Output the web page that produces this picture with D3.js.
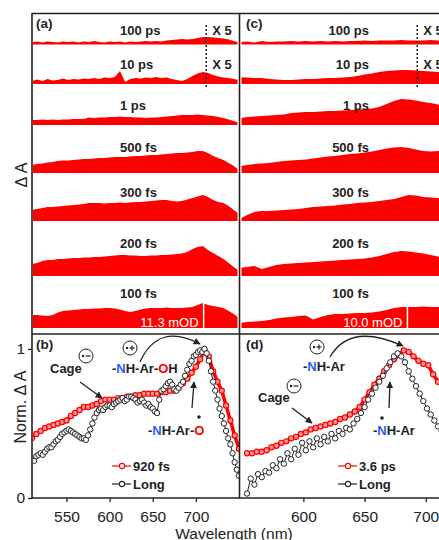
<!DOCTYPE html>
<html><head><meta charset="utf-8">
<script src="https://cdn.jsdelivr.net/npm/d3@7"></script>
<style>body{margin:0;background:#fff}svg{display:block;font-family:Arial,"Liberation Sans",sans-serif}</style>
</head><body><svg id="c" width="439" height="540"></svg>
<script>
// ---------- DATA ----------
const delays = ["100 ps","10 ps","1 ps","500 fs","300 fs","200 fs","100 fs"];
const magTag = ["X 5","X 5","","","","",""];
// wavelength grids (nm)
const wlA = d3.range(510, 751, 6);
const wlC = d3.range(548, 717, 6);
// panel (a) transient spectra, mOD (100 ps and 10 ps shown x5)
const a100ps = [1.1,1.4,0.9,1.4,1.1,0.9,1.4,1.1,1.4,0.9,1.4,1.1,1.6,1.1,0.9,1.4,1.1,1.4,0.9,1.4,1.1,1.4,1.6,1.4,1.6,1.4,1.8,2.0,2.3,2.5,2.3,2.5,2.9,3.4,3.4,3.2,2.9,2.7,2.3,1.6,0.9];
const a10ps  = [1.4,2.0,1.4,2.3,1.6,1.8,2.5,1.8,2.3,2.0,2.5,2.3,2.7,2.3,2.9,2.7,3.2,5.9,0.9,2.3,2.7,2.5,2.9,2.7,3.2,2.7,2.9,2.3,1.8,1.4,2.3,3.6,4.7,5.4,5.0,4.1,3.4,2.9,2.7,2.3,1.8];
const a1ps   = [2.3,2.3,2.5,2.3,2.5,2.3,2.5,2.5,2.7,2.7,2.7,3.4,3.2,3.4,3.4,3.6,3.6,3.8,3.6,3.6,3.4,3.4,3.2,3.4,3.4,3.6,3.8,4.1,4.3,4.5,4.5,4.5,4.7,4.5,4.3,4.1,3.6,3.2,2.5,1.8,0.9];
const a500fs = [3.6,4.1,4.3,4.7,5.0,5.4,5.7,5.7,5.9,6.1,6.3,6.3,6.6,6.8,6.8,7.0,7.2,7.2,7.2,7.5,7.7,7.7,7.9,8.1,8.1,8.4,8.6,8.8,9.0,9.0,9.3,9.5,9.9,9.9,9.0,7.7,6.8,5.9,4.5,3.2,1.4];
const a300fs = [5.0,5.4,5.9,6.3,6.3,6.6,6.8,7.0,7.2,7.5,7.7,8.1,8.1,8.1,7.9,8.1,8.1,8.4,8.1,8.4,8.6,8.6,8.8,9.0,9.3,9.5,9.5,9.0,8.8,9.0,9.7,10.4,11.1,11.8,10.8,9.5,8.6,8.1,6.8,5.0,3.2];
const a200fs = [5.4,5.9,6.8,7.2,7.2,7.7,7.7,7.9,8.1,8.1,8.4,8.4,8.6,8.6,8.8,9.0,9.3,9.5,9.5,9.3,9.3,9.0,9.0,9.3,9.3,9.5,9.5,9.7,9.9,10.2,10.8,12.2,13.1,13.6,11.8,10.4,9.0,7.7,5.9,4.1,2.3];
const a100fs = [5.9,5.9,5.7,5.4,5.9,7.0,7.7,7.9,8.1,8.4,8.6,8.6,8.8,8.8,9.0,9.0,8.8,8.4,7.7,7.2,7.7,8.4,8.8,9.0,9.0,9.0,9.3,9.0,9.0,9.0,9.3,9.5,10.4,11.3,10.4,9.9,9.5,9.0,7.7,6.3,4.5];
// panel (c) transient spectra, mOD
const c100ps = [1.2,1.4,1.0,1.7,1.2,1.4,1.4,1.7,1.4,1.7,1.4,1.7,1.4,1.7,1.4,1.7,1.7,1.9,1.7,1.9,1.9,1.9,2.1,1.9,1.9,1.9,2.1,1.9,1.9];
const c10ps  = [3.3,3.1,2.9,2.9,2.4,2.1,1.9,1.9,2.1,2.4,2.4,2.6,2.9,2.9,3.1,3.3,3.8,4.5,5.0,5.7,6.2,6.4,6.7,6.7,6.4,6.2,6.0,5.7,5.7];
const c1ps   = [3.3,3.8,4.0,4.3,4.5,4.8,5.0,5.7,6.0,6.2,6.2,6.4,6.7,6.7,6.9,7.1,7.4,7.6,7.9,8.6,10.0,11.4,12.4,12.1,11.7,10.9,10.5,9.8,9.0];
const c500fs = [3.3,3.8,4.3,4.5,4.8,5.2,5.7,6.0,6.2,6.4,6.9,7.4,7.9,8.1,8.6,9.0,9.3,9.8,10.2,10.9,11.7,12.1,12.4,11.9,11.2,10.5,10.2,10.5,10.7];
const c300fs = [1.0,2.9,4.3,4.8,4.8,5.0,5.2,5.5,5.7,6.2,6.7,6.9,7.1,7.4,7.9,8.1,8.6,8.8,9.0,9.5,10.0,10.5,11.4,12.4,12.1,11.4,11.2,10.9,10.5];
const c200fs = [3.8,4.3,4.8,3.3,4.3,5.2,5.7,6.0,6.2,6.4,6.7,6.9,7.1,7.4,7.6,7.9,8.1,8.3,8.8,9.5,10.5,11.4,11.9,11.7,11.2,10.7,10.0,9.3,8.6];
const c100fs = [2.4,2.9,3.1,3.3,3.8,4.5,5.0,5.2,5.7,6.0,4.0,5.2,6.2,6.7,6.7,6.9,7.1,7.1,7.4,7.9,8.6,9.5,10.0,10.0,10.0,10.2,10.0,10.0,10.0];
const scaleBarA = {wl: 709, mOD: 11.3, label: "11.3 mOD"};
const scaleBarC = {wl: 685, mOD: 10.0, label: "10.0 mOD"};
const magLineA = 712, magLineC = 693;
// panel (b) normalized spectra
const wlB = d3.range(510, 751, 5);
const b920fs = [0.40,0.43,0.45,0.47,0.48,0.49,0.50,0.51,0.52,0.55,0.57,0.59,0.61,0.61,0.62,0.63,0.65,0.66,0.66,0.66,0.67,0.67,0.68,0.68,0.69,0.69,0.70,0.70,0.70,0.70,0.71,0.71,0.72,0.72,0.74,0.77,0.80,0.84,0.88,0.93,0.99,0.95,0.85,0.78,0.72,0.62,0.52,0.42,0.33];
const wlB2 = d3.range(510, 750.1, 2.5);
const bLong  = [0.26,0.25,0.28,0.29,0.30,0.29,0.31,0.33,0.34,0.34,
                0.36,0.38,0.39,0.41,0.43,0.44,0.45,0.46,0.45,0.44,
                0.43,0.42,0.41,0.40,0.40,0.39,0.42,0.46,0.50,0.54,
                0.57,0.59,0.60,0.59,0.61,0.62,0.62,0.61,0.63,0.64,
                0.65,0.66,0.67,0.65,0.66,0.68,0.68,0.67,0.66,0.64,
                0.65,0.66,0.64,0.62,0.63,0.61,0.60,0.58,0.57,0.66,
                0.72,0.73,0.75,0.77,0.78,0.76,0.73,0.72,0.74,0.76,
                0.78,0.82,0.86,0.90,0.92,0.95,0.96,0.98,0.99,0.98,
                1.00,0.97,0.92,0.85,0.78,0.72,0.66,0.60,0.55,0.50,
                0.45,0.40,0.36,0.30,0.24,0.19,0.15];
// panel (d) normalized spectra
const wlD1 = d3.range(554, 719, 4);
const d36ps = [0.30,0.30,0.31,0.31,0.32,0.34,0.35,0.37,0.38,0.40,0.41,0.43,0.44,0.46,0.47,0.48,0.49,0.50,0.51,0.53,0.54,0.56,0.58,0.61,0.66,0.71,0.76,0.80,0.85,0.89,0.93,0.96,0.99,0.98,0.95,0.92,0.90,0.89,0.83,0.78,0.76,0.73];
const wlD2 = d3.range(554, 717, 3);
const dLong = [0.03,0.13,0.09,0.16,0.14,0.18,0.17,0.22,0.20,0.26,0.23,0.30,0.26,0.33,0.29,0.37,0.32,0.38,0.34,0.40,0.36,0.41,0.38,0.43,0.40,0.45,0.43,0.47,0.46,0.50,0.53,0.57,0.61,0.66,0.70,0.74,0.78,0.82,0.87,0.91,0.95,0.97,0.95,0.91,0.85,0.80,0.75,0.70,0.65,0.60,0.56,0.52,0.48,0.45,0.42];
const xTicksB = [550,600,650,700], xTicksD = [600,650,700], yTicks = [0,1];

// ---------- LAYOUT ----------
const RED = "#ff0000", INK = "#222";
const rowBase = [44.5, 84, 125, 173, 221, 276, 328];
const labelBase = [35, 69, 110, 152, 197, 248, 298];
const svg = d3.select("#c");
const xA = d3.scaleLinear([510,750],[32,239]);
const xC = d3.scaleLinear([548,750],[239.7,487]);
const hA = d3.scaleLinear([0,11.3],[0,25]);
const hC = d3.scaleLinear([0,10],[0,21]);
const yN = d3.scaleLinear([0,1.1],[498,334]);

const defs = svg.append("defs");
defs.append("clipPath").attr("id","clipA").append("rect").attr("x",33).attr("y",14).attr("width",204.5).attr("height",320);
defs.append("clipPath").attr("id","clipC").append("rect").attr("x",241.5).attr("y",14).attr("width",200).attr("height",320);
defs.append("clipPath").attr("id","clipB").append("rect").attr("x",33).attr("y",335).attr("width",206).attr("height",162);
defs.append("clipPath").attr("id","clipD").append("rect").attr("x",240.5).attr("y",335).attr("width",200).attr("height",162);
defs.append("marker").attr("id","arr").attr("viewBox","0 0 10 10").attr("refX",9).attr("refY",5)
  .attr("markerWidth",7).attr("markerHeight",7).attr("markerUnits","userSpaceOnUse").attr("orient","auto")
  .append("path").attr("d","M0,0L10,5L0,10z").attr("fill",INK);

function stack(series, wl, x, h, clip, bar, magWl, labelX, anchor) {
  const g = svg.append("g").attr("clip-path",`url(#${clip})`);
  series.forEach((s,i)=>{
    const base = rowBase[i];
    const area = d3.area().x((d,j)=>x(wl[j])).y0(base).y1(d=>base - h(d));
    g.append("path").datum(s).attr("d",area).attr("fill",RED);
  });
  const b = rowBase[6];
  g.append("line").attr("x1",x(bar.wl)).attr("x2",x(bar.wl)).attr("y1",b).attr("y2",b-h(bar.mOD))
    .attr("stroke","#fff").attr("stroke-width",1.5);
  g.append("text").attr("x",x(bar.wl)-5).attr("y",b-1.5).attr("text-anchor","end")
    .attr("fill","#fff").attr("font-size",13).text(bar.label);
  g.append("line").attr("x1",x(magWl)).attr("x2",x(magWl)).attr("y1",25).attr("y2",87)
    .attr("stroke",INK).attr("stroke-width",1.5).attr("stroke-dasharray","2,2");
  delays.forEach((t,i)=>{
    g.append("text").attr("x",labelX).attr("y",labelBase[i]).attr("text-anchor",anchor)
      .attr("font-weight","bold").attr("font-size",13).attr("fill",INK).text(t);
    if (magTag[i]) g.append("text").attr("x",x(magWl)+6).attr("y",labelBase[i])
      .attr("font-weight","bold").attr("font-size",13).attr("fill",INK).text(magTag[i]);
  });
}
stack([a100ps,a10ps,a1ps,a500fs,a300fs,a200fs,a100fs], wlA, xA, hA, "clipA", scaleBarA, magLineA, 120, "start");
stack([c100ps,c10ps,c1ps,c500fs,c300fs,c200fs,c100fs], wlC, xC, hC, "clipC", scaleBarC, magLineC, 369, "end");

function spectra(x, clip, redWl, redV, blkWl, blkV) {
  const g = svg.append("g").attr("clip-path",`url(#${clip})`);
  const lr = d3.line().x((d,j)=>x(redWl[j])).y(d=>yN(d));
  g.append("path").datum(redV).attr("d",lr).attr("fill","none").attr("stroke",RED).attr("stroke-width",3.5);
  g.selectAll(null).data(redV).join("circle").attr("cx",(d,j)=>x(redWl[j])).attr("cy",d=>yN(d)).attr("r",2.6)
    .attr("fill","#ff9a9a").attr("stroke",RED).attr("stroke-width",1.2);
  const lb = d3.line().x((d,j)=>x(blkWl[j])).y(d=>yN(d));
  g.append("path").datum(blkV).attr("d",lb).attr("fill","none").attr("stroke",INK).attr("stroke-width",1);
  g.selectAll(null).data(blkV).join("circle").attr("cx",(d,j)=>x(blkWl[j])).attr("cy",d=>yN(d)).attr("r",2.7)
    .attr("fill","#fff").attr("stroke",INK).attr("stroke-width",1);
}
spectra(xA, "clipB", wlB, b920fs, wlB2, bLong);
spectra(xC, "clipD", wlD1, d36ps, wlD2, dLong);

// ---------- FRAME ----------
const fr = svg.append("g").attr("stroke",INK).attr("stroke-width",1.6).attr("fill","none");
fr.append("line").attr("x1",32).attr("x2",439).attr("y1",13.5).attr("y2",13.5);
fr.append("line").attr("x1",32).attr("x2",439).attr("y1",334).attr("y2",334);
fr.append("line").attr("x1",32).attr("x2",439).attr("y1",498).attr("y2",498);
fr.append("line").attr("x1",32).attr("x2",32).attr("y1",13).attr("y2",498.8);
fr.append("line").attr("x1",239.5).attr("x2",239.5).attr("y1",13).attr("y2",498.8);

function styleAxis(g){ g.select(".domain").remove(); g.selectAll("line").attr("stroke",INK).attr("stroke-width",1.3);
  g.selectAll("text").attr("fill",INK).attr("font-size",15.5).attr("font-family","Arial, 'Liberation Sans', sans-serif"); }
svg.append("g").attr("transform","translate(0,498)")
  .call(d3.axisBottom(xA).tickValues(xTicksB).tickSize(4).tickPadding(9)).call(styleAxis);
svg.append("g").attr("transform","translate(0,498)")
  .call(d3.axisBottom(xC).tickValues(xTicksD).tickSize(4).tickPadding(9)).call(styleAxis);
svg.append("g").attr("transform","translate(32,0)")
  .call(d3.axisLeft(yN).tickValues(yTicks).tickFormat(d3.format("d")).tickSize(4).tickPadding(3)).call(styleAxis);

svg.append("text").attr("transform","translate(26,407) rotate(-90)").attr("text-anchor","middle")
  .attr("font-size",16).attr("fill",INK).text("Norm. Δ A");
svg.append("text").attr("transform","translate(27,175) rotate(-90)").attr("text-anchor","middle")
  .attr("font-size",16).attr("fill",INK).text("Δ A");
svg.append("text").attr("x",234).attr("y",538.5).attr("text-anchor","middle")
  .attr("font-size",15.5).attr("fill",INK).text("Wavelength (nm)");

[["(a)",36,28],["(c)",246,28],["(b)",36,349],["(d)",246,349]].forEach(([t,x,y])=>
  svg.append("text").attr("x",x).attr("y",y).attr("font-weight","bold").attr("font-size",13.5).attr("fill",INK).text(t));

// ---------- ANNOTATIONS ----------
const an = svg.append("g").attr("font-weight","bold").attr("font-size",13).attr("fill",INK);
function chem(x, y, parts, anchor){
  const t = an.append("text").attr("x",x).attr("y",y).attr("text-anchor",anchor||"start");
  parts.forEach(([s,c])=>t.append("tspan").attr("fill",c).text(s));
}
const BLUE = "#1f5fff";
chem(112,373,[["-",INK],["N",BLUE],["H-Ar-",INK],["O",RED],["H",INK]]);
chem(148,435,[["-",INK],["N",BLUE],["H-Ar-",INK],["O",RED]]);
an.append("circle").attr("cx",199).attr("cy",417).attr("r",1.8).attr("fill",INK);
an.append("text").attr("x",50).attr("y",373).text("Cage");
chem(303,371,[["-",INK],["N",BLUE],["H-Ar",INK]]);
chem(373,435,[["-",INK],["N",BLUE],["H-Ar",INK]]);
an.append("circle").attr("cx",382).attr("cy",418).attr("r",1.8).attr("fill",INK);
an.append("text").attr("x",258).attr("y",402).text("Cage");

function charge(cx, cy, plus){
  const g = svg.append("g").attr("stroke",INK).attr("fill","none");
  g.append("circle").attr("cx",cx).attr("cy",cy).attr("r",7).attr("stroke-width",1).attr("fill","#fff");
  g.append("circle").attr("cx",cx-3).attr("cy",cy).attr("r",1.2).attr("fill",INK).attr("stroke","none");
  g.append("line").attr("x1",cx-0.5).attr("x2",cx+4.5).attr("y1",cy).attr("y2",cy).attr("stroke-width",1.2);
  if (plus) g.append("line").attr("x1",cx+2).attr("x2",cx+2).attr("y1",cy-2.5).attr("y2",cy+2.5).attr("stroke-width",1.2);
}
charge(86,356,false); charge(130,348,true);
charge(294,386,false); charge(317,347,true);

const ar = svg.append("g").attr("stroke",INK).attr("stroke-width",1.3).attr("fill","none");
ar.append("path").attr("d","M140,362 Q158,322 200,344").attr("marker-end","url(#arr)");
ar.append("path").attr("d","M330,357 Q350,322 403,346").attr("marker-end","url(#arr)");
ar.append("path").attr("d","M80,382 L102,398").attr("marker-end","url(#arr)");
ar.append("path").attr("d","M292,408 L312,423").attr("marker-end","url(#arr)");
ar.append("path").attr("d","M192,408 L194,382").attr("marker-end","url(#arr)");
ar.append("path").attr("d","M389,408 L390,382").attr("marker-end","url(#arr)");

function legend(x, y, color, fillc, label){
  const g = svg.append("g");
  g.append("line").attr("x1",x).attr("x2",x+19).attr("y1",y).attr("y2",y).attr("stroke",color).attr("stroke-width",1.2);
  g.append("circle").attr("cx",x+10).attr("cy",y).attr("r",2.6).attr("fill",fillc).attr("stroke",color).attr("stroke-width",1.1);
  g.append("text").attr("x",x+21).attr("y",y+5).attr("font-weight","bold").attr("font-size",13).attr("fill",INK).text(label);
}
legend(112,466,RED,"#fff","920 fs"); legend(112,484,INK,"#fff","Long");
legend(338,466,RED,"#fff","3.6 ps"); legend(338,484,INK,"#fff","Long");
</script></body></html>
